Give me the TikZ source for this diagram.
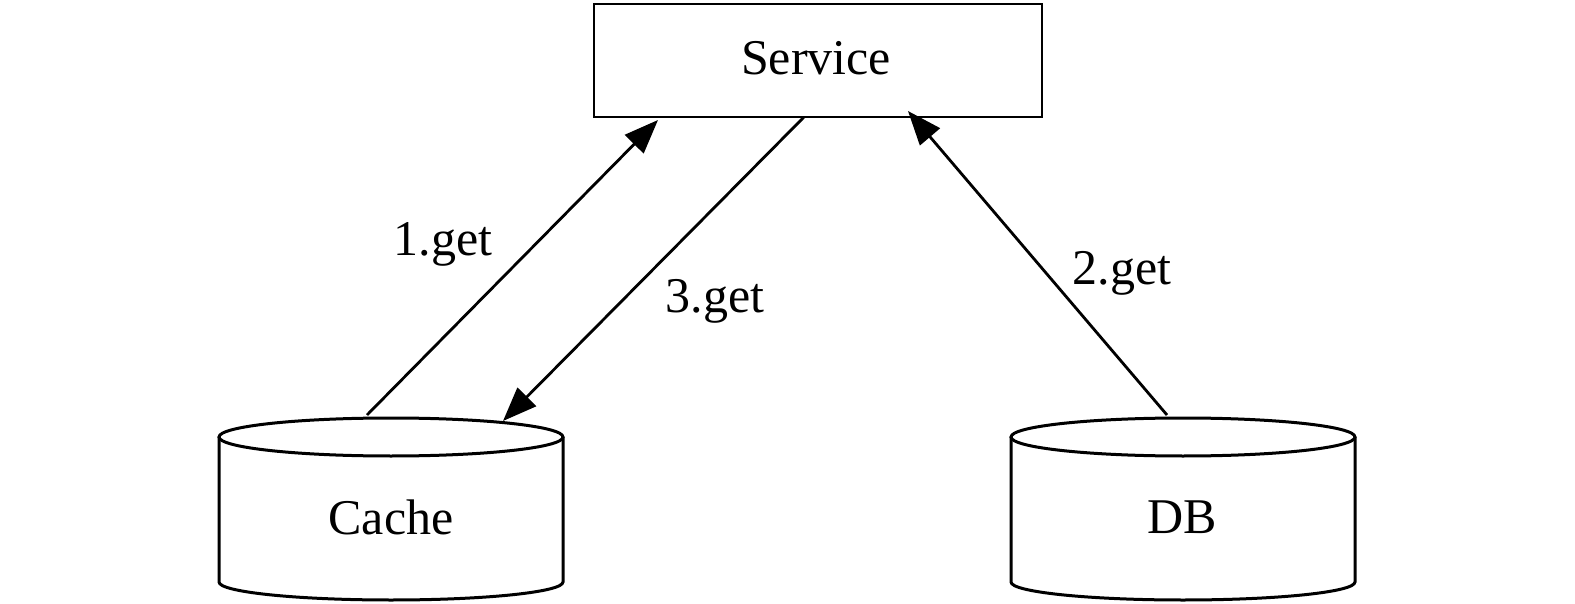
\documentclass[tikz,border=0pt]{standalone}
\usepackage{fontspec}
\setmainfont{Liberation Serif}
\usetikzlibrary{arrows.meta}
\begin{document}
\begin{tikzpicture}[x=1pt,y=-1pt,
  line width=2.8pt,
  lbl/.style={font=\fontsize{50}{60}\selectfont, inner sep=0pt},
  conn/.style={-{Triangle[length=34pt,width=26pt]}, line width=2.8pt},
  cyl/.style={line width=3pt}]
\useasboundingbox (0,0) rectangle (1575,604);
% Service box
\node[draw, line width=2.8pt, minimum width=448pt, minimum height=113pt, inner sep=0pt] (service) at (818,60.5) {};
\node[lbl] (servicetext) at (816,58) {Service};
% Cache cylinder
\draw[cyl] (219,437) -- (219,582) arc[start angle=180, end angle=0, x radius=172, y radius=18] -- (563,437);
\draw[cyl] (391,437) ellipse[x radius=172, y radius=19];
\node[lbl] (cache) at (391,517) {Cache};
% DB cylinder
\draw[cyl] (1011,437) -- (1011,582) arc[start angle=180, end angle=0, x radius=172, y radius=18] -- (1355,437);
\draw[cyl] (1183,437) ellipse[x radius=172, y radius=19];
\node[lbl] (db) at (1182,517) {DB};
% connector endpoints
\coordinate (c1) at (367,415);
\coordinate (s1) at (658,120);
\coordinate (s3) at (804,117);
\coordinate (c3) at (503,421);
\coordinate (d2) at (1167,415);
\coordinate (s2) at (908,111);
\draw[conn] (c1) -- (s1);
\draw[conn] (s3) -- (c3);
\draw[conn] (d2) -- (s2);
\node[lbl] (l1) at (443,244) {1.get};
\node[lbl] (l3) at (715,301) {3.get};
\node[lbl] (l2) at (1122,273) {2.get};
\end{tikzpicture}
\end{document}
